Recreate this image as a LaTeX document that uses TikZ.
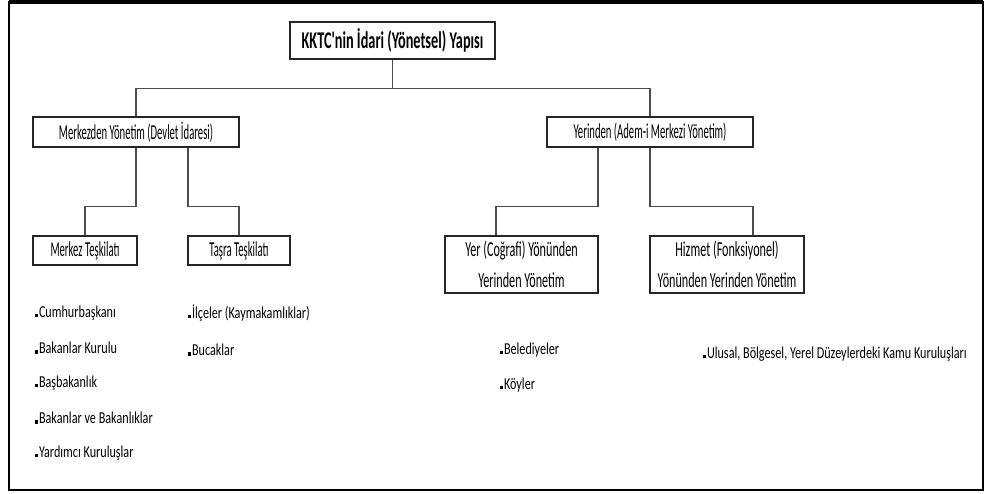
\documentclass[tikz,border=0pt]{standalone}
\usepackage{fontspec}
\setmainfont{Carlito}
\newfontfamily\headfont{Carlito}[FakeStretch=0.595]
\newfontfamily\boxfont{Carlito}[FakeStretch=0.50]
\newfontfamily\twofont{Carlito}[FakeStretch=0.57]
\newfontfamily\listfont{Carlito}[FakeStretch=0.73]
\usetikzlibrary{positioning,calc}
\newcommand{\blt}{\rule{2.2pt}{2.8pt}\kern0.6pt}

\begin{document}
\begin{tikzpicture}[
  x=0.75pt,y=-0.75pt,
  box/.style={rectangle,draw=black!85,line width=0.8pt,inner sep=0pt,align=center,
              font=\boxfont\fontsize{16}{18}\selectfont},
  head/.style={box,font=\headfont\bfseries\fontsize{18}{20}\selectfont},
  twoline/.style={box,font=\twofont\fontsize{16}{23.25}\selectfont},
  item/.style={anchor=west,inner sep=0pt,font=\listfont\fontsize{12.5}{14}\selectfont},
  conn/.style={draw=black!70,line width=0.8pt}
]
\useasboundingbox (0,0) rectangle (984,493);
% ---- frame ----
\draw[line width=1.6pt] (9,2.5) rectangle (983,490);
\draw[line width=2.4pt] (9,1.6) -- (983,1.6);

% ---- top ----
\node[head,minimum width=153.75pt,minimum height=27.75pt] (title) at (392.5,40.5) {KKTC'nin İdari (Yönetsel) Yapısı};

% ---- second level ----
\node[box,minimum width=154.5pt,minimum height=22.5pt] (mzy) at (136,132) {Merkezden Yönetim (Devlet İdaresi)};
\node[box,minimum width=154.5pt,minimum height=22.5pt] (yer) at (650,132) {Yerinden (Adem-i Merkezi Yönetim)};
\draw[conn] (title.south) -- ++(0,29) coordinate (bus) -| (mzy.north);
\draw[conn] (bus) -| (yer.north);

% ---- merkezden ----
\node[box,minimum width=78pt,minimum height=21.75pt] (merkez) at (85,250.5) {Merkez Teşkilatı};
\node[box,minimum width=76.5pt,minimum height=21.75pt] (tasra) at (239,250.5) {Taşra Teşkilatı};
\draw[conn] (mzy.south) -- ++(0,59) -| (merkez.north);
\draw[conn] ($(mzy.south)+(52,0)$) -- ++(0,59) -| (tasra.north);

% ---- yerinden ----
\node[twoline,minimum width=114.75pt,minimum height=42.75pt] (cog) at (521.5,264.5) {Yer (Coğrafi) Yönünden\\Yerinden Yönetim};
\node[twoline,minimum width=115.5pt,minimum height=42.75pt] (hiz) at (727,264.5) {Hizmet (Fonksiyonel)\\Yönünden Yerinden Yönetim};
\draw[conn] (yer.south) -- ++(0,59) -| ($(hiz.north)+(26,0)$);
\draw[conn] ($(yer.south)+(-52,0)$) -- ++(0,59) -| ($(cog.north)+(-25.5,0)$);

% ---- lists ----
\node[item] (m1) at (35,313) {\blt Cumhurbaşkanı};
\node[item] (m2) at (35,348) {\blt Bakanlar Kurulu};
\node[item] (m3) at (35,383) {\blt Başbakanlık};
\node[item] (m4) at (35,418) {\blt Bakanlar ve Bakanlıklar};
\node[item] (m5) at (35,453) {\blt Yardımcı Kuruluşlar};

\node[item] (t1) at (188,313) {\blt İlçeler (Kaymakamlıklar)};
\node[item] (t2) at (188,350) {\blt Bucaklar};

\node[item] (y1) at (500,350) {\blt Belediyeler};
\node[item] (y2) at (500,385) {\blt Köyler};

\node[item] (h1) at (703,354) {\blt Ulusal, Bölgesel, Yerel Düzeylerdeki Kamu Kuruluşları};
\end{tikzpicture}
\end{document}
